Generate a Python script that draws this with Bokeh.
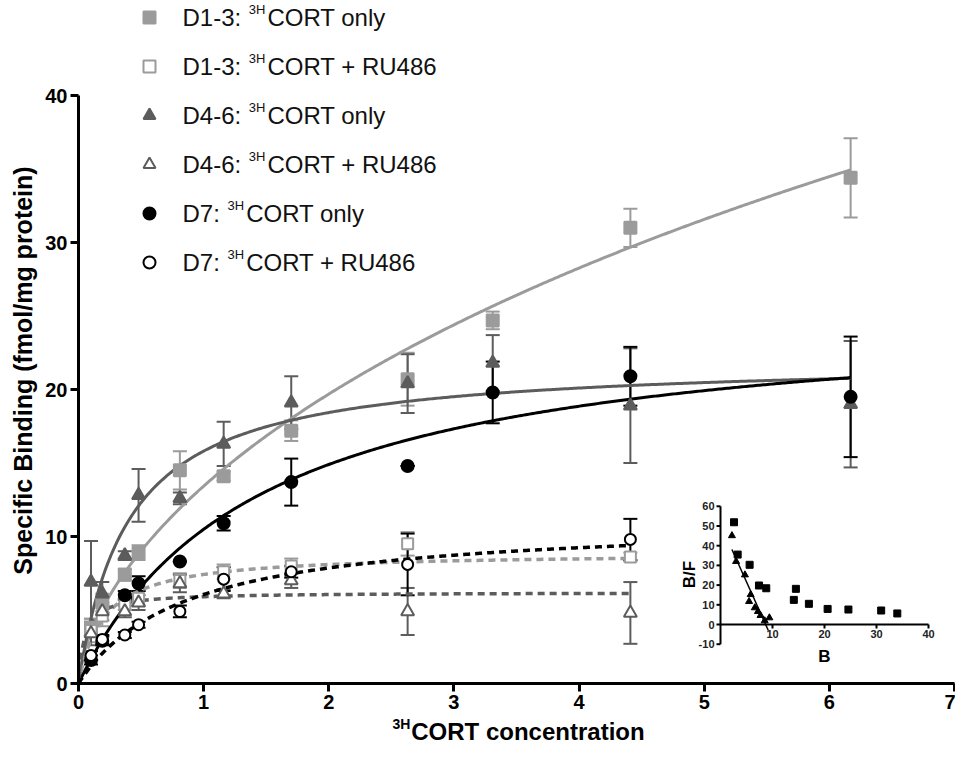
import numpy as np
from bokeh.plotting import figure
from bokeh.models import (Range1d, FixedTicker, Whisker, TeeHead, ColumnDataSource,
                          Label, Legend, LegendItem)
from bokeh.embed import file_html
from bokeh.resources import INLINE
from bokeh.core.properties import value

# ---------------- data ----------------
conc = [0.1, 0.19, 0.37, 0.48, 0.81, 1.16, 1.70, 2.63, 3.31, 4.41, 6.17]
d13_only = [3.8, 5.5, 7.4, 8.9, 14.5, 14.1, 17.2, 20.7, 24.7, 31.0, 34.4]
d13_only_err = [0.6, 0.6, 0.4, 0.5, 1.3, 0.3, 0.7, 1.8, 0.6, 1.3, 2.7]
d46_only = [6.9, 6.1, 8.7, 12.8, 12.6, 16.3, 19.1, 20.4, 21.8, 18.9, 19.0]
d46_only_err = [2.8, 0.8, 0.3, 1.8, 0.4, 1.5, 1.8, 2.0, 1.9, 3.9, 4.3]
d7_only = [1.6, 2.9, 6.0, 6.8, 8.3, 10.9, 13.7, 14.8, 19.8, 20.9, 19.5]
d7_only_err = [0.3, 0.3, 0.3, 0.5, 0.0, 0.5, 1.6, 0.0, 2.1, 2.0, 4.1]

conc_ru = [0.1, 0.19, 0.37, 0.48, 0.81, 1.16, 1.70, 2.63, 4.41]
d13_ru = [3.6, 4.6, 5.4, 5.8, 7.0, 7.6, 8.0, 9.5, 8.6]
d13_ru_err = [0.8, 0.7, 0.4, 0.5, 0.5, 0.5, 0.5, 0.8, 0.3]
d46_ru = [3.4, 4.9, 4.9, 5.5, 6.8, 6.1, 7.0, 4.9, 4.8]
d46_ru_err = [0.8, 0.6, 0.4, 0.5, 0.6, 0.3, 0.5, 1.6, 2.1]
d7_ru = [1.9, 3.0, 3.3, 4.0, 4.9, 7.1, 7.6, 8.1, 9.8]
d7_ru_err = [0.3, 0.3, 0.2, 0.2, 0.4, 0.8, 0.4, 2.1, 1.4]

# fitted saturation-curve parameters (Bmax, Kd, Hill slope)
fit_d13_only = (149.7, 42.0, 0.62)
fit_d46_only = (22.1, 0.398, 1.0)
fit_d7_only = (25.7, 1.45, 1.0)
fit_d13_ru = (8.9, 0.2, 1.0)
fit_d46_ru = (6.2, 0.05, 1.0)
fit_d7_ru = (11.2, 0.85, 1.0)

# Scatchard inset
sc_sq_B = [2.6, 3.3, 5.6, 7.4, 8.8, 14.1, 14.5, 17.0, 20.6, 24.6, 30.9, 34.0]
sc_sq_BF = [51.9, 35.5, 30.3, 19.8, 18.4, 12.5, 18.1, 10.5, 7.9, 7.6, 7.1, 5.6]
sc_tri_B = [2.2, 3.0, 4.7, 5.8, 5.5, 6.6, 7.2, 7.7, 8.5, 9.4]
sc_tri_BF = [45.1, 32.0, 25.2, 15.2, 11.7, 8.5, 6.6, 4.6, 1.9, 3.4]

x_ticks = [0, 1, 2, 3, 4, 5, 6, 7]
y_ticks = [0, 10, 20, 30, 40]
ix_ticks = [10, 20, 30, 40]
iy_ticks = [-10, 0, 10, 20, 30, 40, 50, 60]

legend_prefix = ["D1-3: ", "D1-3: ", "D4-6: ", "D4-6: ", "D7: ", "D7: "]
legend_suffix = ["CORT only", "CORT + RU486", "CORT only", "CORT + RU486", "CORT only", "CORT + RU486"]

# ---------------- layout constants (page pixels) ----------------
W, H = 955, 745
PX0, PY0 = 8, 8                      # page margin
X0PIX, X7PIX = 86, 962               # page x of x=0 and x=7
Y0PIX, Y40PIX = 691, 103             # page y of y=0 and y=40
XMAX, YMAX = 7.0, 40.0
XS = (X7PIX - X0PIX) / XMAX
YS = (Y0PIX - Y40PIX) / YMAX
FONT = "Liberation Sans"

LIGHT = "#9b9b9b"
DARK = "#5c5c5c"
BLACK = "#000000"


def px(X):
    return (X - X0PIX) / XS


def py(Y):
    return (Y0PIX - Y) / YS


p = figure(width=W, height=H, output_backend="svg", toolbar_location=None, title=None,
           x_range=Range1d(px(PX0), px(PX0 + W)), y_range=Range1d(py(PY0 + H), py(PY0)),
           min_border_left=0, min_border_right=0, min_border_top=0, min_border_bottom=0)
p.outline_line_color = None
p.grid.visible = False
p.background_fill_color = "white"

for ax in (p.xaxis[0], p.yaxis[0]):
    ax.fixed_location = 0
    ax.axis_line_width = 3
    ax.major_tick_line_width = 3
    ax.major_tick_out = 8
    ax.major_tick_in = 0
    ax.minor_tick_line_color = None
    ax.major_label_text_font = FONT
    ax.major_label_text_font_style = "bold"
    ax.major_label_text_font_size = "20px"
    ax.major_label_text_color = "black"
    ax.major_label_standoff = 3
p.xaxis[0].ticker = FixedTicker(ticks=x_ticks)
p.yaxis[0].ticker = FixedTicker(ticks=y_ticks)
p.xaxis[0].bounds = (0, XMAX)
p.yaxis[0].bounds = (0, YMAX)

# ---------------- inset ranges ----------------
IX0, IXS = 728.0, 5.2     # page x of B=0, px per unit
IY0, IYS = 632.0, 1.97    # page y of B/F=0, px per unit
p.extra_x_ranges = {"ix": Range1d((PX0 - IX0) / IXS, (PX0 + W - IX0) / IXS)}
p.extra_y_ranges = {"iy": Range1d((IY0 - PY0 - H) / IYS, (IY0 - PY0) / IYS)}


def hill(params, x):
    b, k, h = params
    x = np.asarray(x, dtype=float)
    return b * x ** h / (k ** h + x ** h)


# ---------------- curves ----------------
xs_full = np.linspace(0, max(conc), 400)
xs_ru = np.linspace(0, max(conc_ru), 400)
p.line(xs_full, hill(fit_d13_only, xs_full), line_color=LIGHT, line_width=3)
p.line(xs_full, hill(fit_d46_only, xs_full), line_color=DARK, line_width=3)
p.line(xs_full, hill(fit_d7_only, xs_full), line_color=BLACK, line_width=3)
p.line(xs_ru, hill(fit_d13_ru, xs_ru), line_color=LIGHT, line_width=3.5, line_dash="7 5")
p.line(xs_ru, hill(fit_d46_ru, xs_ru), line_color=DARK, line_width=3.5, line_dash="7 5")
p.line(xs_ru, hill(fit_d7_ru, xs_ru), line_color=BLACK, line_width=3.5, line_dash="7 5")


def series(xv, yv, ev, color, marker, filled, size):
    xv = np.asarray(xv, float)
    yv = np.asarray(yv, float)
    ev = np.asarray(ev, float)
    src = ColumnDataSource(dict(x=xv, y=yv, up=yv + ev, lo=yv - ev))
    w = Whisker(source=src, base="x", upper="up", lower="lo", dimension="height",
                line_color=color, line_width=2,
                upper_head=TeeHead(size=14, line_color=color, line_width=2),
                lower_head=TeeHead(size=14, line_color=color, line_width=2))
    p.add_layout(w)
    return p.scatter("x", "y", source=src, marker=marker, size=size,
                     fill_color=color if filled else "white",
                     line_color=color, line_width=2)


r1 = series(conc, d13_only, d13_only_err, LIGHT, "square", True, 12)
r2 = series(conc_ru, d13_ru, d13_ru_err, LIGHT, "square", False, 11)
r3 = series(conc, d46_only, d46_only_err, DARK, "triangle", True, 13)
r4 = series(conc_ru, d46_ru, d46_ru_err, DARK, "triangle", False, 13)
r5 = series(conc, d7_only, d7_only_err, BLACK, "circle", True, 12)
r6 = series(conc_ru, d7_ru, d7_ru_err, BLACK, "circle", False, 11)

# ---------------- legend (markers) ----------------
ROW0, PITCH, MX = 25, 49, 157
GH = 30
leg_top = ROW0 - GH / 2
leg_bottom = leg_top + 6 * GH + 5 * (PITCH - GH)
legend = Legend(items=[LegendItem(label=" ", renderers=[r]) for r in (r1, r2, r3, r4, r5, r6)],
                location=(MX - GH / 2 - PX0, PY0 + H - leg_bottom),
                glyph_width=GH, glyph_height=GH, label_height=GH, label_width=0,
                spacing=PITCH - GH, padding=0, margin=0, label_standoff=0,
                label_text_font_size="1px", border_line_alpha=0, background_fill_alpha=0)
p.add_layout(legend)

# text width tables (Arial-metric fonts)
REG = {" ": 278, "+": 584, "-": 333, ":": 278, "C": 722, "D": 722, "H": 722, "O": 778,
       "R": 722, "T": 611, "U": 722, "n": 556, "o": 556, "l": 222, "y": 500}
for d in "0123456789":
    REG[d] = 556
BOLD = {" ": 278, "C": 722, "H": 722, "O": 778, "R": 722, "T": 611, "c": 556, "o": 611,
        "n": 611, "e": 556, "t": 333, "r": 389, "a": 556, "i": 278}
for d in "0123456789":
    BOLD[d] = 556


def tw(s, size, table):
    return sum(table.get(c, 556) for c in s) / 1000.0 * size


LEG_FS, SUP_FS, TX = 24, 13, 190
for i in range(6):
    yrow = ROW0 + i * PITCH
    p.add_layout(Label(x=px(TX), y=py(yrow), text=legend_prefix[i], text_font=FONT,
                       text_font_size=f"{LEG_FS}px", text_baseline="middle", text_color="#111111"))
    sx = TX + tw(legend_prefix[i], LEG_FS, REG) + 1
    p.add_layout(Label(x=px(sx), y=py(yrow - 8), text="3H", text_font=FONT,
                       text_font_size=f"{SUP_FS}px", text_baseline="middle", text_color="#111111"))
    mx = sx + tw("3H", SUP_FS, REG) + 2
    p.add_layout(Label(x=px(mx), y=py(yrow), text=legend_suffix[i], text_font=FONT,
                       text_font_size=f"{LEG_FS}px", text_baseline="middle", text_color="#111111"))

# ---------------- axis titles ----------------
p.add_layout(Label(x=px(30), y=py(378), text="Specific Binding (fmol/mg protein)",
                   text_font=FONT, text_font_style="bold", text_font_size="25px",
                   text_color="black", text_align="center", text_baseline="middle",
                   angle=np.pi / 2))
XT_FS, XT_SUP = 24, 14
xt_main = "CORT concentration"
xt_total = tw("3H", XT_SUP, BOLD) + 1 + tw(xt_main, XT_FS, BOLD)
xt_left = 526 - xt_total / 2
p.add_layout(Label(x=px(xt_left), y=py(731), text="3H", text_font=FONT, text_font_style="bold",
                   text_font_size=f"{XT_SUP}px", text_color="black", text_baseline="middle"))
p.add_layout(Label(x=px(xt_left + tw("3H", XT_SUP, BOLD) + 1), y=py(739), text=xt_main,
                   text_font=FONT, text_font_style="bold", text_font_size=f"{XT_FS}px",
                   text_color="black", text_baseline="middle"))

# ---------------- Scatchard inset ----------------
kw = dict(x_range_name="ix", y_range_name="iy")
p.segment(x0=[0], y0=[0], x1=[max(ix_ticks)], y1=[0], line_color="black", line_width=2, **kw)
p.segment(x0=[0], y0=[min(iy_ticks)], x1=[0], y1=[max(iy_ticks)], line_color="black", line_width=2, **kw)
p.segment(x0=ix_ticks, y0=[0] * len(ix_ticks), x1=ix_ticks, y1=[-4 / IYS] * len(ix_ticks),
          line_color="black", line_width=2, **kw)
p.segment(x0=[0] * len(iy_ticks), y0=iy_ticks, x1=[-4 / IXS] * len(iy_ticks), y1=iy_ticks,
          line_color="black", line_width=2, **kw)
p.text(x=ix_ticks, y=[0] * len(ix_ticks), text=[str(t) for t in ix_ticks], y_offset=5,
       text_align="center", text_baseline="top", text_font=value(FONT), text_font_style="bold",
       text_font_size="11px", text_color="#222222", **kw)
p.text(x=[0] * len(iy_ticks), y=iy_ticks, text=[str(t) for t in iy_ticks], x_offset=-6,
       text_align="right", text_baseline="middle", text_font=value(FONT), text_font_style="bold",
       text_font_size="11px", text_color="#222222", **kw)
coef = np.polyfit(sc_tri_B, sc_tri_BF, 1)
fx = np.array([min(sc_tri_B), max(sc_tri_B) - 0.2])
p.line(fx, np.polyval(coef, fx), line_color="black", line_width=1.5, **kw)
p.scatter(sc_sq_B, sc_sq_BF, marker="square", size=7, fill_color="black", line_color="black", **kw)
p.scatter(sc_tri_B, sc_tri_BF, marker="triangle", size=7, fill_color="black", line_color="black", **kw)
p.add_layout(Label(x=px(697), y=py(582), text="B/F", text_font=FONT, text_font_style="bold",
                   text_font_size="17px", text_color="black", text_align="center",
                   text_baseline="middle", angle=np.pi / 2))
p.add_layout(Label(x=px(832), y=py(664), text="B", text_font=FONT, text_font_style="bold",
                   text_font_size="17px", text_color="black", text_align="center",
                   text_baseline="middle"))

open("out.html", "w").write(file_html(p, INLINE))
